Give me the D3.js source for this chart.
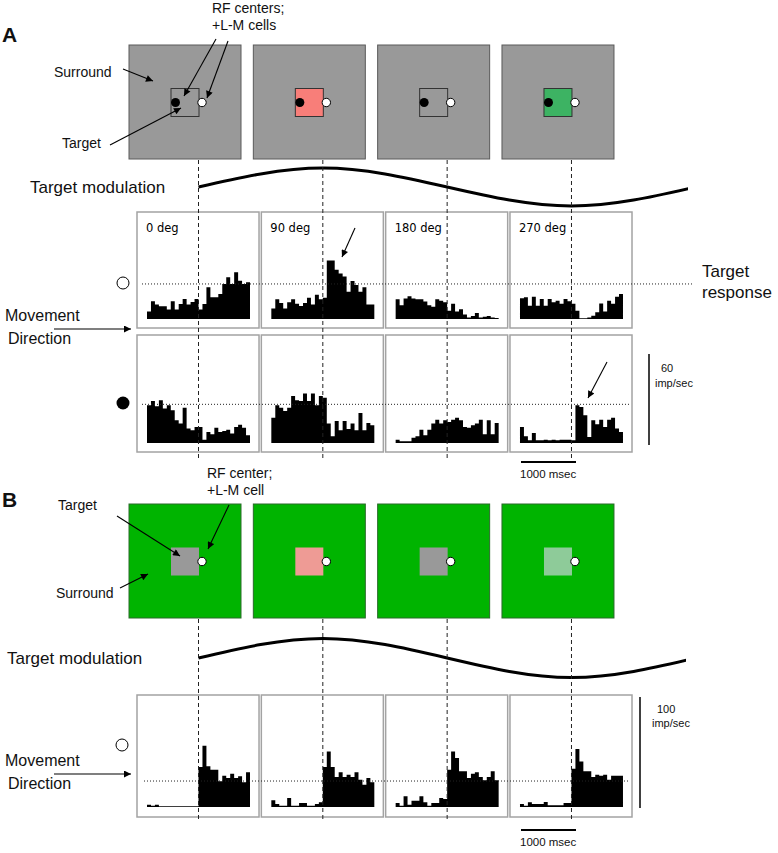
<!DOCTYPE html>
<html>
<head>
<meta charset="utf-8">
<script src="https://cdn.jsdelivr.net/npm/d3@7"></script>
<style>body{margin:0;background:#fff}</style>
</head>
<body>
<div id="fig"></div>
<script>
// directions of movement (one column each)
var directions = ["0 deg", "90 deg", "180 deg", "270 deg"];

// PSTH bins (imp/sec), 26 bins, stimulus onset at bin 13
// panel A, cell with RF at open circle
var openCellA = [
  [5, 11.7, 9.5, 8.4, 8.4, 6.2, 11.7, 6.2, 9.9, 13.2, 9.5, 11.2, 13.2, 6.2, 9.9, 21, 14.3, 14.3, 16.5, 23, 27.5, 23, 30.8, 25.3, 23, 24.2],
  [7, 13, 10.5, 7, 11, 13, 10, 8.5, 10.5, 14, 9.5, 16, 13, 14, 38.5, 38.5, 32.5, 30, 28, 18, 25, 22.5, 18, 21, 9.5, 9.5],
  [13, 9, 13.5, 15, 13.5, 13, 13, 11.5, 9, 8, 13, 12, 11, 5.5, 10, 5, 6.5, 3, 1, 2, 4, 1, 1.5, 2, 1, 0.7],
  [13.6, 14.3, 8.8, 14.7, 8.8, 13.2, 8.8, 13.2, 11, 12, 10, 13.2, 11.7, 10, 5.5, 0.5, 0.5, 1, 2.2, 4.4, 10.3, 5, 12, 10, 14.7, 16.5]
];
// panel A, cell with RF at filled circle
var filledCellA = [
  [24.9, 27.7, 24.2, 28.2, 22.7, 24.9, 21.6, 15, 12.8, 23.3, 9.5, 8.4, 10.6, 10.6, 2.2, 7.3, 5.7, 10.1, 7.3, 7.9, 8.8, 6.2, 10.6, 12.1, 10.1, 5.1],
  [16.7, 24.9, 23.3, 21.1, 23.3, 31, 28.2, 27.7, 32.6, 27.7, 32.6, 24.9, 31, 29.9, 12.8, 4.4, 14.5, 8.4, 14.5, 9.2, 12.8, 8.4, 19.8, 8.4, 13.2, 11.7],
  [2.2, 1.1, 1.1, 1.1, 3.5, 4.4, 8.8, 5.1, 8.8, 12.8, 15.4, 12.8, 15, 13.9, 15.4, 16.7, 15, 10.6, 10.1, 11.7, 12.8, 15.4, 5.7, 15, 5.7, 13.2],
  [10.6, 4.4, 1.8, 6.6, 1.8, 1.8, 2.2, 1.8, 2.2, 1.8, 2.2, 2.2, 2.2, 1.8, 24.9, 23.8, 18.3, 4, 15, 12.3, 15.4, 10.6, 15.4, 16.7, 9.5, 7.3]
];
// panel B, open circle cell
var openCellB = [
  [2.1, 1.2, 2.1, 0.6, 0.6, 0.6, 0.6, 0.6, 0.6, 0.6, 0.6, 0.6, 0.6, 36, 55.2, 36.6, 33.6, 33.6, 23.1, 28.2, 26.1, 30, 26.1, 27.6, 22.2, 31.2],
  [6, 2.7, 1.2, 1.2, 8.1, 1.2, 1.2, 3.6, 3.6, 1.2, 1.2, 2.7, 4.2, 36, 50, 36, 27, 31.2, 27, 29.1, 27, 31.2, 24.6, 20.1, 26.1, 22.2],
  [3.6, 1.2, 9.6, 2.1, 5.7, 5.7, 9.6, 4.2, 1.2, 3.6, 3.6, 8.1, 7.2, 33.6, 50.1, 44.1, 32.1, 32.1, 26.1, 30, 31.2, 27, 24, 27, 32.1, 24],
  [2.7, 1.2, 4.2, 2.7, 2.7, 2.7, 4.5, 1.5, 1.5, 1.5, 1.5, 3.6, 3.6, 34.5, 52.2, 41.1, 32.1, 32.1, 27, 29.1, 28.2, 29.1, 24.6, 28.2, 28.2, 28.2]
];
var refRateA1 = 23.1, refRateA2 = 25.5, refRateB = 23.4;
var onsetBin = 13, nBins = 26;

// target modulation (phase deg -> relative contrast)
var modPhase = [0, 90, 180, 270, 360];
var modValue = [0, 1, 0, -1, 0];

// colours of stimulus squares
var targetFillA = ["#999999", "#f87e79", "#999999", "#3db363"];
var targetFillB = ["#999999", "#ee9b95", "#999999", "#8ecb99"];

var W = 778, H = 853;
var svg = d3.select("#fig").append("svg")
    .attr("width", W).attr("height", H)
    .style("font-family", "'Liberation Sans', Arial, sans-serif");

svg.append("defs").append("marker")
    .attr("id", "head").attr("viewBox", "0 0 10 10")
    .attr("refX", 10).attr("refY", 5)
    .attr("markerWidth", 9).attr("markerHeight", 7)
    .attr("markerUnits", "userSpaceOnUse").attr("orient", "auto")
    .append("path").attr("d", "M0,0L10,5L0,10z").attr("fill", "#000");

var panelX = d3.scaleBand().domain(directions).range([137, 632]).paddingInner(0.0185);
var binX = d3.scaleLinear().domain([0, nBins]).range([10, 113]);
var yA = d3.scaleLinear().domain([0, 60]).range([0, 91]);
var yB = d3.scaleLinear().domain([0, 100]).range([0, 111]);
var msX = d3.scaleLinear().domain([0, 1000]).range([0, 55]);

function onsetX(d) { return panelX(d) + binX(onsetBin); }

function arrow(x1, y1, x2, y2) {
    svg.append("line").attr("x1", x1).attr("y1", y1).attr("x2", x2).attr("y2", y2)
        .attr("stroke", "#000").attr("stroke-width", 1.1).attr("marker-end", "url(#head)");
}
function label(x, y, txt, size, extra) {
    var t = svg.append("text").attr("x", x).attr("y", y).attr("fill", "#111")
        .style("font-size", size + "px").text(txt);
    if (extra) t.style("font-weight", extra);
    return t;
}

function drawStimuli(top, surround, surroundStroke, fills, tStroke, blackDot) {
    var g = svg.append("g");
    directions.forEach(function(d, i) {
        var sx = panelX(d) - 8;
        g.append("rect").attr("x", sx).attr("y", top).attr("width", 112).attr("height", 114)
            .attr("fill", surround).attr("stroke", surroundStroke).attr("stroke-width", 1);
        var tx = sx + 42, ty = top + 43.5;
        g.append("rect").attr("x", tx).attr("y", ty).attr("width", 28).attr("height", 28)
            .attr("fill", fills[i]).attr("stroke", tStroke).attr("stroke-width", tStroke == "none" ? 0 : 1);
        if (blackDot) g.append("circle").attr("cx", tx + 4.5).attr("cy", ty + 14).attr("r", 4.5).attr("fill", "#000");
        g.append("circle").attr("cx", tx + 31).attr("cy", ty + 14).attr("r", 4.2)
            .attr("fill", "#fff").attr("stroke", "#000").attr("stroke-width", 1);
    });
}

function drawModulation(yMid, amp, xEnd) {
    var phaseX = d3.scaleLinear().domain([0, 360]).range([onsetX(directions[0]), onsetX(directions[0]) + 4 * panelX.step()]);
    var modY = d3.scaleLinear().domain([-1, 1]).range([yMid + amp, yMid - amp]);
    var pts = modPhase.map(function(p, i) { return [p, modValue[i]]; });
    var id = "clip" + Math.round(yMid);
    svg.append("clipPath").attr("id", id).append("rect")
        .attr("x", 0).attr("y", 0).attr("width", xEnd).attr("height", H);
    svg.append("path").datum(pts)
        .attr("clip-path", "url(#" + id + ")")
        .attr("d", d3.line().x(function(d) { return phaseX(d[0]); }).y(function(d) { return modY(d[1]); }).curve(d3.curveNatural))
        .attr("fill", "none").attr("stroke", "#000").attr("stroke-width", 3);
}

function drawHist(top, h, base, rows, y, withLabels) {
    var g = svg.append("g");
    directions.forEach(function(d, i) {
        var px = panelX(d);
        g.append("rect").attr("x", px).attr("y", top).attr("width", panelX.bandwidth()).attr("height", h)
            .attr("fill", "#fff").attr("stroke", "#a3a3a3").attr("stroke-width", 1.5);
        // step histogram as one filled area
        var vals = rows[i].concat([rows[i][rows[i].length - 1]]);
        var area = d3.area()
            .x(function(v, j) { return px + binX(j); })
            .y0(base)
            .y1(function(v) { return base - y(v); })
            .curve(d3.curveStepAfter);
        g.append("path").datum(vals).attr("d", area).attr("fill", "#000");
        if (withLabels) {
            g.append("text").attr("x", px + 9).attr("y", top + 20)
                .style("font-family", "'DejaVu Sans', Verdana, sans-serif").style("font-size", "11.5px")
                .text(d);
        }
    });
}

function dotted(x1, x2, yv) {
    svg.append("line").attr("x1", x1).attr("x2", x2).attr("y1", yv).attr("y2", yv)
        .attr("stroke", "#222").attr("stroke-width", 1).attr("stroke-dasharray", "1,2");
}
function dashedOnsets(y1, y2) {
    svg.selectAll(null).data(directions).enter().append("line")
        .attr("x1", onsetX).attr("x2", onsetX).attr("y1", y1).attr("y2", y2)
        .attr("stroke", "#222").attr("stroke-width", 1).attr("stroke-dasharray", "4,3");
}

// ---------- Panel A ----------
label(2, 42, "A", 21, "bold");
drawStimuli(45, "#999999", "#5a5a5a", targetFillA, "#333", true);
label(212, 13, "RF centers;", 14);
label(212, 30, "+L-M cells", 14);
label(54, 77, "Surround", 14);
label(62, 148, "Target", 14);
arrow(123, 69, 153, 81);
arrow(110, 145, 181, 108);
arrow(216, 39, 184, 96);
arrow(228, 41, 207, 98);

label(30, 193, "Target modulation", 17);
drawModulation(187, 19, 688);

var baseA1 = 319, baseA2 = 443;
drawHist(212, 116, baseA1, openCellA, yA, true);
drawHist(335, 117, baseA2, filledCellA, yA, false);
dotted(142, 692, baseA1 - yA(refRateA1));
dotted(142, 630, baseA2 - yA(refRateA2));
dashedOnsets(160, 458);

svg.append("circle").attr("cx", 123).attr("cy", 283).attr("r", 6).attr("fill", "#fff").attr("stroke", "#000");
svg.append("circle").attr("cx", 123).attr("cy", 403).attr("r", 6.5).attr("fill", "#000");
label(5, 321, "Movement", 16);
label(8, 344, "Direction", 16);
arrow(54, 329, 131, 329);
arrow(355, 228, 342, 257);
arrow(607, 362, 588, 398);

label(702, 277, "Target", 17);
label(702, 298, "response", 17);

svg.append("line").attr("x1", 649).attr("x2", 649).attr("y1", 445 - yA(60)).attr("y2", 445)
    .attr("stroke", "#000").attr("stroke-width", 1.5);
label(661, 372, "60", 11);
label(655, 387, "imp/sec", 11);
svg.append("line").attr("x1", 521).attr("x2", 521 + msX(1000)).attr("y1", 462).attr("y2", 462)
    .attr("stroke", "#000").attr("stroke-width", 2);
label(520, 478, "1000 msec", 11.5);

// ---------- Panel B ----------
label(2, 507, "B", 21, "bold");
drawStimuli(504, "#00b400", "#2a6a2a", targetFillB, "none", false);
label(207, 478, "RF center;", 14);
label(207, 495, "+L-M cell", 14);
label(58, 510, "Target", 14);
label(56, 598, "Surround", 14);
arrow(117, 516, 180, 556);
arrow(120, 588, 148, 574);
arrow(229, 505, 208, 549);

label(7, 664, "Target modulation", 17);
drawModulation(658, 19.5, 686);

var baseB = 807;
drawHist(695, 122, baseB, openCellB, yB, false);
dotted(144, 630, baseB - yB(refRateB));
dashedOnsets(619, 822);

svg.append("circle").attr("cx", 122).attr("cy", 745).attr("r", 6).attr("fill", "#fff").attr("stroke", "#000");
label(5, 766, "Movement", 16);
label(8, 789, "Direction", 16);
arrow(54, 774, 131, 774);

svg.append("line").attr("x1", 640).attr("x2", 640).attr("y1", 808 - yB(100)).attr("y2", 808)
    .attr("stroke", "#000").attr("stroke-width", 1.5);
label(657, 713, "100", 11);
label(652, 727, "imp/sec", 11);
svg.append("line").attr("x1", 521).attr("x2", 521 + msX(1000)).attr("y1", 830).attr("y2", 830)
    .attr("stroke", "#000").attr("stroke-width", 2);
label(520, 846, "1000 msec", 11.5);
</script>
</body>
</html>
